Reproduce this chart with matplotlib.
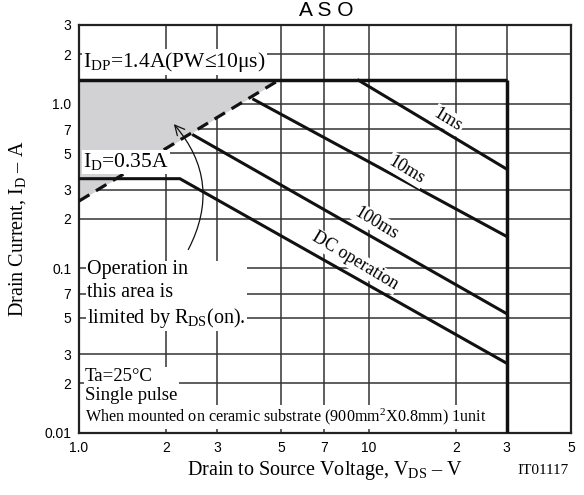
import numpy as np
import matplotlib
matplotlib.use('Agg')
import matplotlib.pyplot as plt
from matplotlib.patches import FancyArrowPatch

plt.rcParams['mathtext.fontset'] = 'custom'
plt.rcParams['mathtext.rm'] = 'Liberation Serif'
plt.rcParams['mathtext.it'] = 'Liberation Serif:italic'

SERIF = 'Liberation Serif'
SANS = 'Liberation Sans'

# safe operating area curves
idp_v = [1.0, 30.0]
idp_i = [1.4, 1.4]
vdss_v = [30.0, 30.0]
vdss_i = [1.4, 0.01]
rds_v = [1.0, 4.94]
rds_i = [0.256, 1.4]
dc_v = [1.0, 2.23, 30.0]
dc_i = [0.35, 0.35, 0.0265]
ms100_v = [2.46, 30.0]
ms100_i = [0.65, 0.053]
ms10_v = [3.97, 30.0]
ms10_i = [1.07, 0.156]
ms1_v = [9.14, 30.0]
ms1_i = [1.4, 0.40]

x_ticks = [1, 2, 3, 5, 7, 10, 20, 30, 50]
x_labels = ['1.0', '2', '3', '5', '7', '10', '2', '3', '5']
y_ticks = [0.01, 0.02, 0.03, 0.05, 0.07, 0.1, 0.2, 0.3, 0.5, 0.7, 1, 2, 3]
y_labels = ['0.01', '2', '3', '5', '7', '0.1', '2', '3', '5', '7', '1.0', '2', '3']

fig = plt.figure(figsize=(5.84, 4.95), dpi=100)
ax = fig.add_axes([79 / 584, 62 / 495, 492 / 584, 408 / 495])
ax.set_xscale('log')
ax.set_yscale('log')
ax.set_xlim(1, 50)
ax.set_ylim(0.01, 3)
ax.set_xticks(x_ticks)
ax.set_xticklabels(x_labels)
ax.set_yticks(y_ticks)
ax.set_yticklabels(y_labels)
ax.minorticks_off()
ax.tick_params(length=0, labelsize=10, pad=5.5)
ax.tick_params(axis='x', pad=5.5)
for lab in ax.get_xticklabels() + ax.get_yticklabels():
    lab.set_fontfamily(SANS)
ax.grid(True, color='#333333', lw=1.1, zorder=0)
ax.set_axisbelow(True)
for sp in ax.spines.values():
    sp.set_linewidth(1.6)
    sp.set_color('#222222')

lc = '#111111'
ax.fill_between(rds_v, rds_i, [1.4, 1.4], color='#d2d2d4', lw=0, zorder=1)
ax.plot(idp_v, idp_i, color=lc, lw=2.5, zorder=3, solid_capstyle='butt')
ax.plot(vdss_v, vdss_i, color=lc, lw=2.5, zorder=3, solid_capstyle='butt')
ax.plot(rds_v, rds_i, color=lc, lw=2.3, ls=(0, (3.8, 2.4)), zorder=3)
for v, i in [(dc_v, dc_i), (ms100_v, ms100_i), (ms10_v, ms10_i), (ms1_v, ms1_i)]:
    ax.plot(v, i, color=lc, lw=2.2, zorder=3, solid_capstyle='butt')

box = dict(facecolor='white', edgecolor='none', pad=1.0)


def fx(px):
    return (px - 79) / 492


def fy(py):
    return (433 - py) / 408


ax.text(fx(83), fy(62), r'I$_{\mathrm{DP}}$=1.4A(PW≤10μs)', family=SERIF, fontsize=15.5,
        transform=ax.transAxes, va='center', ha='left', bbox=box, zorder=5)
ax.text(fx(83), fy(162), r'I$_{\mathrm{D}}$=0.35A', family=SERIF, fontsize=15.5,
        transform=ax.transAxes, va='center', ha='left', bbox=box, zorder=5)

for txt, px, py in [('1ms', 448, 120), ('10ms', 406.7, 170), ('100ms', 376.7, 223),
                    ('DC operation', 355, 261)]:
    ax.text(fx(px), fy(py), txt, family=SERIF, fontsize=13, rotation=-31,
            transform=ax.transAxes, va='center', ha='center', bbox=box, zorder=5,
            rotation_mode='anchor')

ax.text(fx(87), fy(295), 'Operation in\nthis area is\nlimited by R$_{\\mathrm{DS}}$(on).',
        family=SERIF, fontsize=14.5, transform=ax.transAxes, va='center', ha='left',
        linespacing=1.25, bbox=box, zorder=5)

ax.text(fx(85), fy(386), 'Ta=25°C\nSingle pulse', family=SERIF, fontsize=13.5,
        transform=ax.transAxes, va='center', ha='left', linespacing=1.15, bbox=box, zorder=5)
ax.text(fx(85), fy(417), 'When mounted on ceramic substrate (900mm$^{2}$X0.8mm) 1unit',
        family=SERIF, fontsize=11.6, transform=ax.transAxes, va='center', ha='left',
        bbox=box, zorder=5)

arrow = FancyArrowPatch((fx(187), fy(252)), (fx(172), fy(122)), transform=ax.transAxes,
                        arrowstyle='->,head_length=7,head_width=3.5', mutation_scale=1,
                        connectionstyle='arc3,rad=0.35', color='#111111', lw=0.9, zorder=6)
ax.add_patch(arrow)

fig.text(326 / 584, 1 - 10 / 495, 'A S O', family=SANS, fontsize=15, ha='center', va='center')
fig.text(325 / 584, 1 - 470 / 495, r'Drain to Source Voltage, V$_{\mathrm{DS}}$ – V', family=SERIF,
         fontsize=14.5, ha='center', va='center')
fig.text(18 / 584, 1 - 229 / 495, r'Drain Current, I$_{\mathrm{D}}$ – A', family=SERIF,
         fontsize=14.5, ha='center', va='center', rotation=90)
fig.text(543 / 584, 1 - 470 / 495, 'IT01117', family=SERIF, fontsize=11, ha='center', va='center')

fig.savefig('out.png', dpi=100)
